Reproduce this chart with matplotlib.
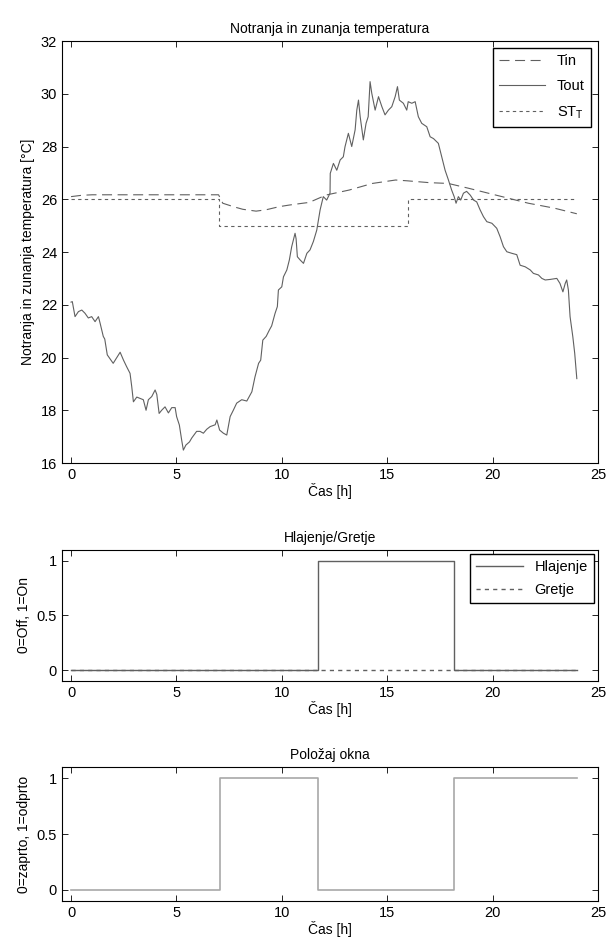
import matplotlib.pyplot as plt

plt.rcParams['font.family'] = ['Liberation Sans', 'DejaVu Sans']
plt.rcParams['font.size'] = 10

# outdoor temperature
tout_h = [0.0, 0.06, 0.19, 0.35, 0.51, 0.66, 0.82, 0.98, 1.14, 1.3, 1.38, 1.53, 1.6, 1.72, 1.85,
          2.0, 2.17, 2.33, 2.49, 2.64, 2.8, 2.88, 2.96, 3.12, 3.27, 3.43, 3.56, 3.67, 3.83, 3.99,
          4.07, 4.18, 4.3, 4.46, 4.62, 4.78, 4.94, 5.01, 5.14, 5.25, 5.33, 5.45, 5.62, 5.73, 5.96,
          6.12, 6.28, 6.44, 6.6, 6.84, 6.92, 7.05, 7.23, 7.39, 7.55, 7.7, 7.86, 8.1, 8.34, 8.58,
          8.73, 8.9, 9.0, 9.1, 9.26, 9.41, 9.52, 9.68, 9.79, 9.84, 10.0, 10.08, 10.24, 10.36, 10.47,
          10.63, 10.68, 10.74, 10.87, 11.03, 11.19, 11.34, 11.5, 11.66, 11.82, 11.97, 12.13, 12.29,
          12.3, 12.45, 12.61, 12.77, 12.92, 13.0, 13.16, 13.32, 13.48, 13.56, 13.64, 13.72, 13.87,
          14.0, 14.1, 14.19, 14.27, 14.43, 14.59, 14.75, 14.9, 15.06, 15.22, 15.38, 15.49, 15.58,
          15.77, 15.93, 16.0, 16.17, 16.33, 16.48, 16.64, 16.88, 17.04, 17.2, 17.43, 17.59, 17.75,
          17.9, 18.06, 18.18, 18.27, 18.38, 18.49, 18.62, 18.77, 18.94, 19.1, 19.25, 19.41, 19.57,
          19.73, 19.97, 20.2, 20.36, 20.52, 20.68, 20.92, 21.15, 21.31, 21.55, 21.79, 21.94, 22.18,
          22.34, 22.5, 22.73, 23.05, 23.2, 23.34, 23.45, 23.52, 23.6, 23.68, 23.81, 23.9, 24.0]
tout_c = [22.1, 22.12, 21.55, 21.74, 21.8, 21.68, 21.5, 21.55, 21.36, 21.55, 21.3, 20.8, 20.7, 20.1, 19.95,
          19.78, 20.0, 20.2, 19.9, 19.65, 19.4, 18.9, 18.32, 18.5, 18.45, 18.4, 18.0, 18.4, 18.52, 18.77,
          18.6, 17.88, 18.0, 18.13, 17.9, 18.1, 18.1, 17.76, 17.44, 16.87, 16.49, 16.68, 16.8, 16.95, 17.2,
          17.2, 17.13, 17.28, 17.38, 17.45, 17.63, 17.25, 17.13, 17.06, 17.76, 18.0, 18.27, 18.4, 18.35, 18.7,
          19.27, 19.78, 19.9, 20.66, 20.8, 21.04, 21.2, 21.67, 21.93, 22.56, 22.68, 23.06, 23.32, 23.7, 24.2,
          24.71, 24.5, 23.82, 23.7, 23.57, 23.95, 24.08, 24.4, 24.83, 25.6, 26.1, 25.97, 26.23,
          26.98, 27.36, 27.1, 27.49, 27.61, 27.99, 28.5, 28.0, 28.63, 29.38, 29.76, 29.13, 28.25,
          28.88, 29.13, 30.46, 30.02, 29.38, 29.89, 29.51, 29.2, 29.38, 29.51, 29.89, 30.27, 29.76,
          29.64, 29.38, 29.7, 29.64, 29.7, 29.13, 28.88, 28.75, 28.37, 28.3, 28.12, 27.61, 27.1,
          26.75, 26.35, 26.1, 25.85, 26.1, 25.97, 26.23, 26.3, 26.16, 25.97, 25.9, 25.6, 25.34,
          25.15, 25.09, 24.9, 24.58, 24.2, 24.01, 23.95, 23.9, 23.5, 23.44, 23.32, 23.19, 23.13,
          23.0, 22.94, 22.96, 23.0, 22.81, 22.49, 22.81, 22.94, 22.56, 21.55, 20.79, 20.16, 19.2]

# indoor temperature
tin_h = [0.0, 0.5, 1.0, 7.0, 7.2, 7.7, 8.15, 8.78, 9.25, 9.88, 10.35, 11.0, 11.3, 12.1, 13.2,
         14.3, 15.4, 15.95, 17.0, 17.9, 18.85, 19.8, 20.75, 21.7, 22.95, 24.0]
tin_c = [26.1, 26.15, 26.17, 26.17, 25.85, 25.72, 25.62, 25.55, 25.6, 25.72, 25.78, 25.85, 25.88, 26.16, 26.35,
         26.6, 26.73, 26.7, 26.63, 26.6, 26.42, 26.23, 26.04, 25.85, 25.66, 25.45]

# set point
st_h = [0, 7, 7, 16, 16, 24]
st_c = [26, 26, 25, 25, 26, 26]

# cooling / heating
hl_h = [0, 11.7, 11.7, 18.15, 18.15, 24]
hl_v = [0, 0, 1, 1, 0, 0]
gr_h = [0, 24]
gr_v = [0, 0]

# window position
ok_h = [0, 7.05, 7.05, 11.7, 11.7, 18.15, 18.15, 24]
ok_v = [0, 0, 1, 1, 0, 0, 1, 1]

fig = plt.figure(figsize=(6.16, 9.43), dpi=100)
ax1 = fig.add_axes([0.1006, 0.509, 0.870, 0.4475])
ax2 = fig.add_axes([0.1006, 0.2778, 0.870, 0.139])
ax3 = fig.add_axes([0.1006, 0.0445, 0.870, 0.142])

c = '#606060'
ax1.plot(tin_h, tin_c, color=c, lw=0.8, dashes=(9, 5), label='Tin')
ax1.plot(tout_h, tout_c, color=c, lw=0.8, label='Tout')
ax1.plot(st_h, st_c, color=c, lw=0.8, dashes=(3, 3), label='ST$_\\mathregular{T}$')
ax1.set_ylim(16, 32)
ax1.set_yticks(range(16, 33, 2))
ax1.set_title('Notranja in zunanja temperatura', fontsize=10, pad=6)
ax1.set_ylabel('Notranja in zunanja temperatura [°C]')
ax1.legend(loc='upper right', fancybox=False, edgecolor='black', handlelength=3.2,
           borderaxespad=0.5, framealpha=1, fontsize=10.5, labelspacing=0.75)

# Gretje drawn first so the solid Hlajenje line covers it where both are zero
ax2.plot(gr_h, gr_v, color=c, lw=1.0, dashes=(3, 3), label='Gretje', zorder=2)
ax2.plot(hl_h, hl_v, color=c, lw=1.0, label='Hlajenje', zorder=3)
h, l = ax2.get_legend_handles_labels()
ax2.set_ylim(-0.1, 1.1)
ax2.set_yticks([0, 0.5, 1])
ax2.set_yticklabels(['0', '0.5', '1'])
ax2.set_title('Hlajenje/Gretje', fontsize=10, pad=6)
ax2.set_ylabel('0=Off, 1=On')
ax2.legend(h[::-1], l[::-1], loc='upper right', fancybox=False, edgecolor='black', handlelength=3.2,
           borderaxespad=0.3, framealpha=1, fontsize=10.5, labelspacing=0.6)

ax3.plot(ok_h, ok_v, color='#a8a8a8', lw=1.2)
ax3.set_ylim(-0.1, 1.1)
ax3.set_yticks([0, 0.5, 1])
ax3.set_yticklabels(['0', '0.5', '1'])
ax3.set_title('Položaj okna', fontsize=10, pad=6)
ax3.set_ylabel('0=zaprto, 1=odprto')

for ax in (ax1, ax2, ax3):
    ax.set_xlim(-0.43, 25)
    ax.set_xticks(range(0, 26, 5))
    ax.set_xlabel('Čas [h]', labelpad=1)
    ax.tick_params(direction='in', top=True, right=True, length=4, width=0.6, labelsize=10.5)
    for s in ax.spines.values():
        s.set_linewidth(0.8)

fig.savefig('out.png', dpi=100)
